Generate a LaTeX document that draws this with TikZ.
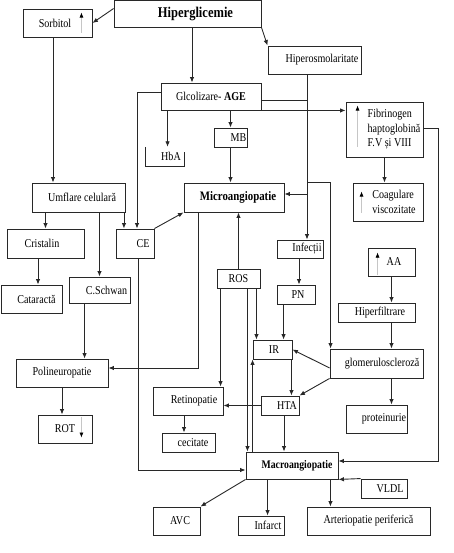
\documentclass[tikz,border=0pt]{standalone}
\usepackage{fontspec}
\setmainfont{Liberation Serif}[FakeStretch=0.84]
\usetikzlibrary{arrows.meta}
\definecolor{lc}{RGB}{40,40,40}
\begin{document}
\begin{tikzpicture}[x=1pt,y=-1pt,
  box/.style={draw=lc, line width=0.9pt, inner sep=0pt, font=\fontsize{12}{13}\selectfont},
  conn/.style={draw=lc, line width=0.9pt, -{Latex[length=5.5pt,width=4.5pt]}},
  ln/.style={draw=lc, line width=0.9pt},
  uparr/.style={draw=gray!45, line width=0.6pt, -{Latex[length=5pt,width=4pt,color=black]}}
]
\useasboundingbox (0,0) rectangle (454,553);
% nodes
\node[box,minimum width=147pt,minimum height=27pt,font=\bfseries\fontsize{14.9}{16}\selectfont] (hip) at (187.5,13.5) {\hspace*{16pt}Hiperglicemie};
\node[box,minimum width=69pt,minimum height=28pt] (sorb) at (57.5,23) {Sorbitol\hspace*{5pt}};
\node[box,minimum width=93pt,minimum height=28pt] (hos) at (314.5,60) {\hspace*{15pt}Hiperosmolaritate};
\node[box,minimum width=100pt,minimum height=27pt] (glc) at (211,96.5) {Glcolizare- \textbf{AGE}};
\node[box,minimum width=77pt,minimum height=55pt,align=left,font=\fontsize{12}{14.5}\selectfont] (fib) at (384.5,129.5) {\hspace*{19pt}Fibrinogen\\\hspace*{19pt}haptoglobină\\\hspace*{19pt}F.V și VIII};
\node[box,minimum width=33pt,minimum height=19pt] (mb) at (230.5,137.5) {\hspace*{16pt}MB};
\node[inner sep=0pt,minimum width=38pt,minimum height=19pt,font=\fontsize{12}{13}\selectfont] (hba) at (165,156.5) {\hspace*{12pt}HbA};
\node[box,minimum width=93pt,minimum height=29pt] (umf) at (78.5,197.5) {\hspace*{7pt}Umflare celulară};
\node[box,minimum width=100pt,minimum height=29pt,font=\bfseries\fontsize{12.9}{14}\selectfont] (mic) at (234,197.5) {\hspace*{8pt}Microangiopatie};
\node[box,minimum width=70pt,minimum height=38pt,align=left,font=\fontsize{12}{15}\selectfont] (coa) at (388,202) {\hspace*{12pt}Coagulare\\\hspace*{12pt}viscozitate};
\node[box,minimum width=77pt,minimum height=29pt] (cri) at (45.5,243.5) {Cristalin\hspace*{7pt}};
\node[box,minimum width=38pt,minimum height=29pt] (ce) at (135,243.5) {\hspace*{16pt}CE};
\node[box,minimum width=46pt,minimum height=18pt] (inf) at (300,249) {\hspace*{14pt}Infecții};
\node[box,minimum width=47pt,minimum height=28pt] (aa) at (391.5,262) {\hspace*{5pt}AA};
\node[box,minimum width=43pt,minimum height=19pt] (ros) at (238.5,278.5) {ROS};
\node[box,minimum width=61pt,minimum height=28pt] (cat) at (31.5,299) {\hspace*{10pt}Cataractă};
\node[box,minimum width=61pt,minimum height=26pt] (csw) at (99.5,290) {\hspace*{14pt}C.Schwan};
\node[box,minimum width=38pt,minimum height=19pt] (pn) at (296,294.5) {\hspace*{4pt}PN};
\node[box,minimum width=77pt,minimum height=19pt] (hfi) at (376.5,312.5) {\hspace*{7pt}Hiperfiltrare};
\node[box,minimum width=39pt,minimum height=19pt] (ir) at (272.5,349.5) {\hspace*{3pt}IR};
\node[box,minimum width=93pt,minimum height=29pt] (glo) at (376.5,363.5) {\hspace*{11pt}glomeruloscleroză};
\node[box,minimum width=92pt,minimum height=28pt] (pol) at (62,373) {Polineuropatie};
\node[box,minimum width=70pt,minimum height=28pt] (ret) at (188,401) {\hspace*{12pt}Retinopatie};
\node[box,minimum width=38pt,minimum height=19pt] (hta) at (280,405.5) {\hspace*{14pt}HTA};
\node[box,minimum width=61pt,minimum height=28pt] (pro) at (376.5,419) {\hspace*{15pt}proteinurie};
\node[box,minimum width=54pt,minimum height=28pt] (rot) at (65,429) {ROT};
\node[box,minimum width=53pt,minimum height=19pt] (cec) at (188.5,442.5) {\hspace*{9pt}cecitate};
\node[box,minimum width=92pt,minimum height=27pt,font=\bfseries\fontsize{11.6}{13}\selectfont] (mac) at (292,465.5) {\hspace*{10pt}Macroangiopatie};
\node[box,minimum width=46pt,minimum height=19pt] (vld) at (384,488.5) {\hspace*{12pt}VLDL};
\node[box,minimum width=47pt,minimum height=28pt] (avc) at (176.5,521) {\hspace*{7pt}AVC};
\node[box,minimum width=46pt,minimum height=19pt] (ifa) at (261,525.5) {\hspace*{14pt}Infarct};
\node[box,minimum width=123pt,minimum height=28pt] (art) at (368.5,521) {Arteriopatie periferică};
% open box HbA
\draw[ln] (hba.north west) -- (hba.south west) -- (hba.south east) -- ([yshift=-5pt]hba.north east);
% internal arrows
\draw[uparr] ([xshift=-11pt,yshift=-24pt]sorb.north east) -- ([xshift=-11pt,yshift=-4pt]sorb.north east);
\draw[uparr] ([xshift=12pt,yshift=-45pt]fib.north west) -- ([xshift=12pt,yshift=-4pt]fib.north west);
\draw[uparr] ([xshift=9pt,yshift=-30pt]coa.north west) -- ([xshift=9pt,yshift=-9pt]coa.north west);
\draw[uparr] ([xshift=10pt,yshift=-27pt]aa.north west) -- ([xshift=10pt,yshift=-5pt]aa.north west);
\draw[uparr] ([xshift=-11pt,yshift=-2pt]rot.north east) -- ([xshift=-11pt,yshift=-23pt]rot.north east);
% connectors
\coordinate (vx) at ([xshift=-7.5pt]hos.south);
\draw[conn] ([yshift=-9pt]hip.north west) -- (sorb.east);
\draw[conn] ([xshift=4.5pt]hip.south) -- ([xshift=4.5pt]hip.south |- glc.north);
\draw[conn] (hip.south east) -- (hos.north west);
\draw[conn] ([xshift=-4.5pt]sorb.south) -- ([xshift=-4.5pt]sorb.south |- umf.north);
\draw[conn] (vx) -- (vx |- inf.north);
\draw[ln] ([yshift=-3.5pt]glc.east) -- ([yshift=-3.5pt]glc.east -| vx);
\draw[conn] (vx |- 0,194) -- ([yshift=3.5pt]mic.east);
\draw[conn] (vx |- mic.north) -- ([xshift=1pt]glo.north west |- mic.north) -- ([xshift=1pt]glo.north west);
\draw[conn] (glc.south east) -- (glc.south east -| fib.west);
\draw[conn] ([yshift=4.5pt]glc.west) -| ([xshift=2pt]ce.north);
\draw[conn] ([xshift=7pt]glc.south west) -- ([xshift=7pt]glc.south west |- hba.north);
\draw[conn] (glc.south -| mb.north) -- (mb.north);
\draw[conn] (mb.south) -- (mb.south |- mic.north);
\draw[conn] (umf.south -| cri.north) -- (cri.north);
\draw[conn] (umf.south -| csw.north) -- (csw.north);
\draw[conn] ([xshift=-1.5pt]umf.south east) -- ([xshift=-1.5pt]umf.south east |- ce.north);
\draw[conn] ([xshift=-7.5pt]cri.south) -- ([xshift=-7.5pt]cri.south |- cat.north);
\draw[conn] ([xshift=3pt]ce.south) |- ([yshift=-4.5pt]mac.west);
\draw[conn] (ce.north east) -- (mic.south west);
\draw[conn] ([xshift=15pt]mic.south west) |- ([yshift=5pt]pol.east);
\draw[conn] (ros.north) -- (ros.north |- mic.south);
\draw[conn] ([xshift=4pt]ros.south west) -- ([xshift=4pt]ros.south west |- ret.north);
\draw[conn] ([xshift=-13pt]ros.south east) -- ([xshift=-13pt]ros.south east |- mac.north);
\draw[conn] ([xshift=-4pt]ros.south east) -- ([xshift=-4pt]ros.south east |- ir.north);
\draw[conn] ([xshift=7pt]mac.north west) -- ([xshift=7pt]mac.north west |- ir.south);
\draw[conn] ([xshift=-1pt]inf.south) -- ([xshift=-1pt]inf.south |- pn.north);
\draw[conn] ([xshift=7pt]pn.south west) -- ([xshift=7pt]pn.south west |- ir.north);
\draw[conn] ([xshift=-1pt]ir.south east) -- ([xshift=-1pt]ir.south east |- hta.north);
\draw[conn] ([yshift=-4.5pt]glo.west) -- (ir.east);
\draw[conn] (glo.south west) -- (hta.north east);
\draw[conn] (hta.west) -- (hta.west -| ret.east);
\draw[conn] ([xshift=-4pt]ret.south) -- ([xshift=-4pt]ret.south |- cec.north);
\draw[conn] ([xshift=4pt]hta.south) -- ([xshift=4pt]hta.south |- mac.north);
\draw[conn] (aa.south) -- (aa.south |- hfi.north);
\draw[conn] (hfi.south -| aa.south) -- (glo.north -| aa.south);
\draw[conn] (glo.south -| aa.south) -- (pro.north -| aa.south);
\draw[conn] (fib.south) -- (fib.south |- coa.north);
\draw[conn] ([yshift=1.5pt]fib.east) -- ++(15,0) |- ([yshift=4.5pt]mac.east);
\draw[conn] (vld.north west) -- (mac.south east);
\draw[conn] (mac.south west) -- (avc.north east);
\draw[conn] ([xshift=22pt]mac.south west) -- ([xshift=22pt]mac.south west |- ifa.north);
\draw[conn] ([xshift=-8pt]mac.south east) -- ([xshift=-8pt]mac.south east |- art.north);
\draw[conn] ([xshift=16pt]csw.south west) -- ([xshift=16pt]csw.south west |- pol.north);
\draw[conn] (pol.south) -- (pol.south |- rot.north);
\end{tikzpicture}
\end{document}
